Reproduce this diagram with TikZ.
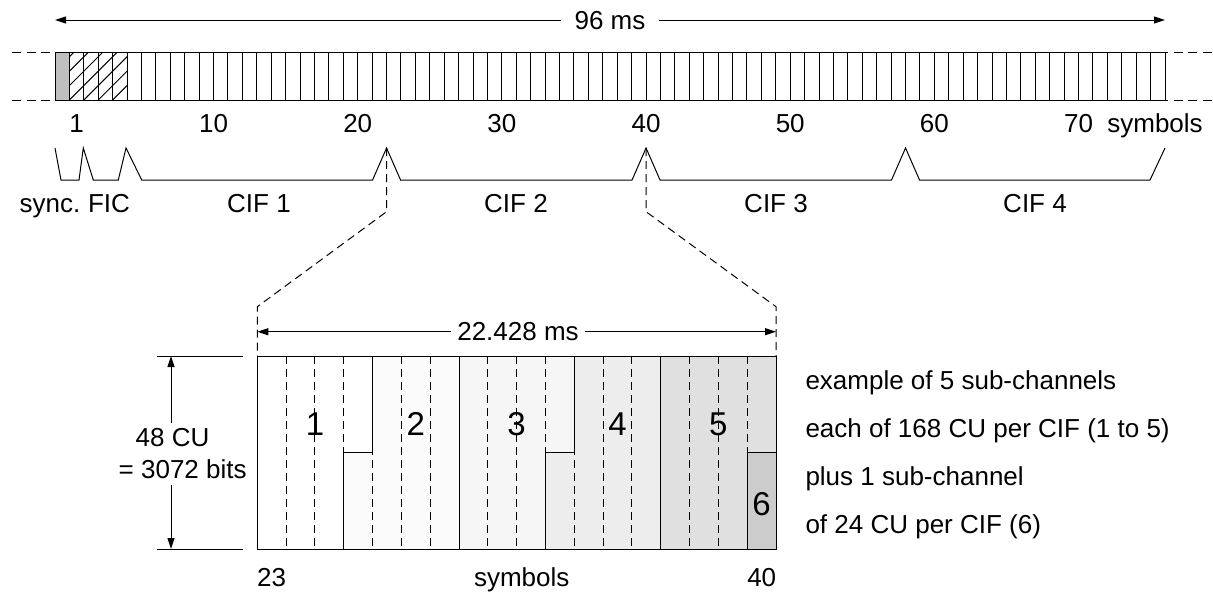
\documentclass[tikz,border=0pt]{standalone}
\usepackage{fontspec}
\setmainfont{Liberation Sans}
\usetikzlibrary{arrows.meta}

\definecolor{syncgray}{gray}{0.75}
\definecolor{subone}{gray}{1.0}
\definecolor{subtwo}{gray}{0.985}
\definecolor{subthree}{gray}{0.965}
\definecolor{subfour}{gray}{0.93}
\definecolor{subfive}{gray}{0.88}
\definecolor{subsix}{gray}{0.80}

% width of one symbol in the frame bar
\def\symw{14.4156}

\begin{document}
\begin{tikzpicture}
        [x=0.5pt, y=-0.5pt, line width=0.5pt,
        font=\fontsize{13}{15}\selectfont,
        >={Triangle[length=5.5pt,width=3.5pt]},
        ext line/.style={dash pattern=on 4.5pt off 2.8pt},
        proj line/.style={dash pattern=on 4pt off 2.5pt},
        txt/.style={anchor=base, inner sep=0pt},
        chan txt/.style={anchor=base, inner sep=0pt, font=\fontsize{16.5}{18}\selectfont},
        gap/.style={anchor=base, fill=white, inner xsep=3pt, inner ysep=3pt},
        ]
        \useasboundingbox (0,0) rectangle (1213,591);

        % transmission frame
        \coordinate (F0) at (55,20);
        \coordinate (F1) at (1165,20);
        \draw[<->] (F0) -- (F1);
        \node[gap, inner xsep=7pt] (frame) at (610,29.3) {96 ms};

        \draw[fill=syncgray] (55,52) rectangle ++(\symw,48);
        \begin{scope}
            \clip ({55+\symw},52) rectangle ({55+5*\symw},100);
            \foreach \k in {-4,...,4}
                \draw ({55+(1+\k)*\symw},100) -- ++(48,-48);
        \end{scope}
        \draw (55,52) rectangle (1165,100);
        \foreach \i in {1,...,76}
            \draw ({55+\i*\symw},52) -- ++(0,48);

        \draw[ext line] (12,52) -- (55,52);
        \draw[ext line] (12,100) -- (55,100);
        \draw[ext line, dash phase=3pt] (1165,52) -- (1213,52);
        \draw[ext line, dash phase=3pt] (1165,100) -- (1213,100);

        % symbol numbers
        \node[txt] (n1) at ({55+1.5*\symw},132) {1};
        \foreach \n in {10,20,...,70}
            \node[txt] (n\n) at ({55+(\n+1)*\symw},132) {\n};
        \node[txt] (sym) at (1155,132) {symbols};

        % channel brackets
        \draw (55,148) -- (61,180) -- (79,180) -- (83.3,148) -- (93.3,180)
            -- (118.3,180) -- (126,148) -- (141.7,180)
            -- ({55+23*\symw-14},180) -- ({55+23*\symw},148) coordinate (cifA)
            -- ({55+23*\symw+14},180)
            -- ({55+41*\symw-14},180) -- ({55+41*\symw},148) coordinate (cifB)
            -- ({55+41*\symw+14},180)
            -- ({55+59*\symw-14},180) -- ({55+59*\symw},148)
            -- ({55+59*\symw+14},180)
            -- (1150,180) -- (1165,148);

        \node[txt] (sync) at (50,212) {sync.};
        \node[txt] (fic) at (109,212) {FIC};
        \node[txt] (cif1) at (259,212) {CIF 1};
        \node[txt] (cif2) at (516,212) {CIF 2};
        \node[txt] (cif3) at (776,212) {CIF 3};
        \node[txt] (cif4) at (1035,212) {CIF 4};

        % zoom into CIF 2
        \coordinate (boxNW) at (257.3,356);
        \coordinate (boxNE) at (776,356);
        \draw[proj line] (cifA) -- ++(0,63.7) -- (257.3,306.7) -- (boxNW);
        \draw[proj line] (cifB) -- ++(0,63.7) -- (776,306.7) -- (boxNE);

        \begin{scope}[shift={(257.3,0)}, x=14.4085pt]
            \fill[subone] (0,356) -- (4,356) -- (4,452.5) -- (3,452.5) -- (3,549) -- (0,549) -- cycle;
            \fill[subtwo] (3,452.5) -- (4,452.5) -- (4,356) -- (7,356) -- (7,549) -- (3,549) -- cycle;
            \fill[subthree] (7,356) -- (11,356) -- (11,452.5) -- (10,452.5) -- (10,549) -- (7,549) -- cycle;
            \fill[subfour] (10,452.5) -- (11,452.5) -- (11,356) -- (14,356) -- (14,549) -- (10,549) -- cycle;
            \fill[subfive] (14,356) -- (18,356) -- (18,452.5) -- (17,452.5) -- (17,549) -- (14,549) -- cycle;
            \fill[subsix] (17,452.5) -- (18,452.5) -- (18,549) -- (17,549) -- cycle;

            \foreach \k in {1,...,17}
                \draw[proj line] (\k,356) -- (\k,549);

            \draw (0,356) rectangle (18,549);
            \draw (3,549) -- (3,452.5) -- (4,452.5) -- (4,356);
            \draw (7,549) -- (7,356);
            \draw (10,549) -- (10,452.5) -- (11,452.5) -- (11,356);
            \draw (14,549) -- (14,356);
            \draw (17,549) -- (17,452.5) -- (18,452.5);

            \node[chan txt] (ch1) at (2,435) {1};
            \node[chan txt] (ch2) at (5.5,435) {2};
            \node[chan txt] (ch3) at (9,435) {3};
            \node[chan txt] (ch4) at (12.5,435) {4};
            \node[chan txt] (ch5) at (16,435) {5};
            \node[chan txt] (ch6) at (17.5,515) {6};
        \end{scope}

        % duration of one CIF
        \draw[<->] (257.3,331.7) -- (776,331.7);
        \node[gap] (cifdur) at (518,340) {22.428 ms};

        % capacity of one symbol
        \draw (156.7,356) -- (243.3,356);
        \draw (156.7,549) -- (243.3,549);
        \draw[<->] (171,356) -- (171,549);
        \node[gap] (cu) at (172.5,446.7) {48 CU};
        \node[gap] (bits) at (182.7,478.3) {= 3072 bits};

        \node[txt] (s23) at (271.7,586.7) {23};
        \node[txt] (ssym) at (521.7,586.7) {symbols};
        \node[txt] (s40) at (761.7,586.7) {40};

        % notes on the right
        \node[txt, anchor=base west] (note1) at (805,389) {example of 5 sub-channels};
        \node[txt, anchor=base west] (note2) at (805,437) {each of 168 CU per CIF (1 to 5)};
        \node[txt, anchor=base west] (note3) at (805,485) {plus 1 sub-channel};
        \node[txt, anchor=base west] (note4) at (805,533) {of 24 CU per CIF (6)};
\end{tikzpicture}
\end{document}
